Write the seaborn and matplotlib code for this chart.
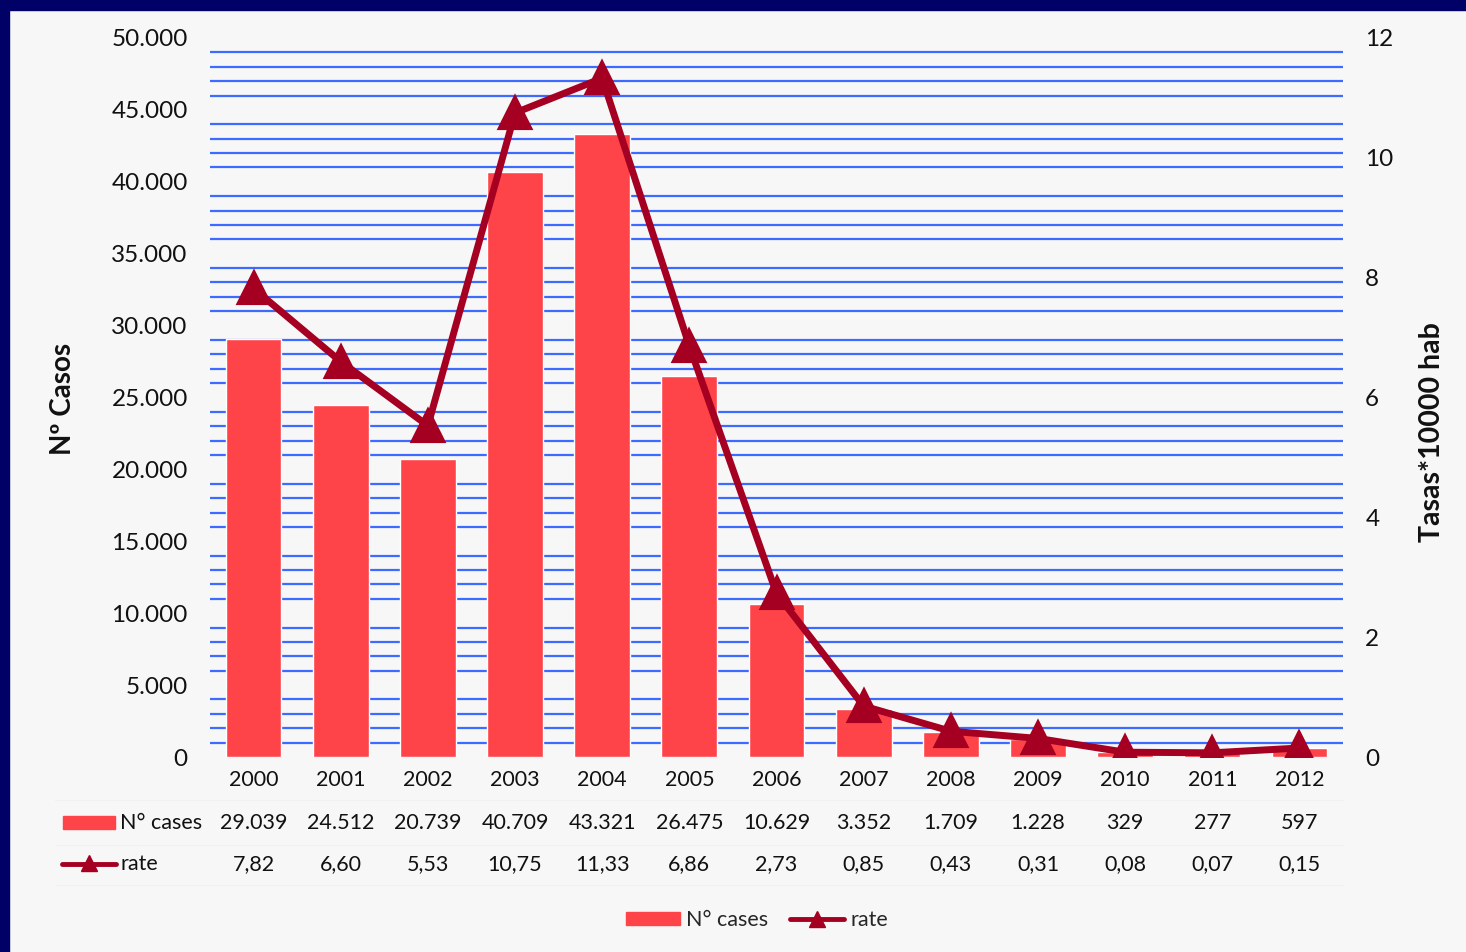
import matplotlib
matplotlib.use("Agg")
import matplotlib.pyplot as plt
from matplotlib.patches import Rectangle
from matplotlib.lines import Line2D
from matplotlib.ticker import FixedLocator, FuncFormatter
import seaborn as sns
import pandas as pd

# Annual cases and rate per 10,000 inhabitants
years = ["2000", "2001", "2002", "2003", "2004", "2005", "2006",
         "2007", "2008", "2009", "2010", "2011", "2012"]
cases = [29039, 24512, 20739, 40709, 43321, 26475, 10629,
         3352, 1709, 1228, 329, 277, 597]
rate = [7.82, 6.60, 5.53, 10.75, 11.33, 6.86, 2.73,
        0.85, 0.43, 0.31, 0.08, 0.07, 0.15]

df = pd.DataFrame({"year": years, "cases": cases, "rate": rate})

sns.set_theme(style="white")
plt.rcParams["font.family"] = ["Lato", "DejaVu Sans"]

BG = "#f7f7f7"
BAR = "#ff4449"
LINE = "#a50021"
GRID = "#3d6bff"
NAVY = "#000066"
TXT = "#111111"

W, H = 1466, 952
fig = plt.figure(figsize=(W / 100, H / 100), dpi=100, facecolor=BG)

# frame band along the top and left edges
fig.patches.append(Rectangle((0, 1 - 10 / H), 1, 10 / H, transform=fig.transFigure,
                             color=NAVY, zorder=0))
fig.patches.append(Rectangle((0, 0), 9 / W, 1, transform=fig.transFigure,
                             color=NAVY, zorder=0))

x0, x1 = 210 / W, 1343 / W
y0, y1 = 1 - 757 / H, 1 - 38 / H
ax = fig.add_axes([x0, y0, x1 - x0, y1 - y0])
ax.set_facecolor(BG)

sns.barplot(data=df, x="year", y="cases", color=BAR, width=0.64,
            saturation=1, ax=ax, zorder=3)
ax.set_xlim(-0.5, len(years) - 0.5)
ax.set_ylim(0, 50000)
ax.set_yticks(range(0, 50001, 5000))
ax.yaxis.set_major_formatter(FuncFormatter(lambda v, p: f"{int(v):,}".replace(",", ".")))
minor = [v for v in range(1000, 50000, 1000) if v % 5000 != 0]
ax.yaxis.set_minor_locator(FixedLocator(minor))
ax.grid(False)
ax.grid(True, which="minor", axis="y", color=GRID, lw=1.6, zorder=1)
ax.set_axisbelow(True)
ax.tick_params(axis="y", which="both", length=0, labelsize=17.5, pad=16, colors=TXT)
ax.tick_params(axis="x", length=0, labelsize=15.5, pad=9, colors=TXT)
ax.set_xlabel("")
ax.set_ylabel("Nº Casos", fontsize=20, fontweight="bold", color=TXT)
ax.yaxis.set_label_coords((76 - 210) / 1133, (757 - 399) / 719)
for s in ax.spines.values():
    s.set_visible(False)

ax2 = ax.twinx()
sns.lineplot(data=df, x="year", y="rate", color=LINE, lw=5, marker="^",
             markersize=21, markeredgecolor=LINE, markeredgewidth=3,
             ax=ax2, zorder=5, solid_joinstyle="round")
ax2.set_ylim(0, 12)
ax2.set_xlim(-0.5, len(years) - 0.5)
ax2.set_yticks(range(0, 13, 2))
ax2.tick_params(axis="y", length=0, labelsize=17.5, pad=16, colors=TXT)
ax2.set_ylabel("Tasas*10000 hab", fontsize=20.5, fontweight="bold", color=TXT)
ax2.yaxis.set_label_coords((1419 - 210) / 1133, (757 - 432) / 719)
ax2.grid(False)
for s in ax2.spines.values():
    s.set_visible(False)

# data table below the chart
row_cases_y = 1 - 823 / H
row_rate_y = 1 - 864 / H
for i, (c, r) in enumerate(zip(cases, rate)):
    xf = x0 + (i + 0.5) / len(years) * (x1 - x0)
    fig.text(xf, row_cases_y, f"{c:,}".replace(",", "."), fontsize=15.5,
             ha="center", va="center", color=TXT)
    fig.text(xf, row_rate_y, f"{r:.2f}".replace(".", ","), fontsize=15.5,
             ha="center", va="center", color=TXT)

# row headers with their key symbols
fig.patches.append(Rectangle((63 / W, row_cases_y - 6 / H), 52 / W, 13 / H,
                             transform=fig.transFigure, color=BAR))
fig.text(120 / W, row_cases_y, "N° cases", fontsize=15.5, ha="left", va="center",
         color=TXT)
fig.lines.append(Line2D([62 / W, 116 / W], [row_rate_y, row_rate_y],
                        transform=fig.transFigure, color=LINE, lw=3.5,
                        solid_capstyle="round"))
fig.lines.append(Line2D([89 / W], [row_rate_y + 1 / H], transform=fig.transFigure,
                        color=LINE, marker="^", markersize=11, lw=0))
fig.text(120 / W, row_rate_y, "rate", fontsize=15.5, ha="left", va="center",
         color=TXT)

# faint table cell borders
for yb in [1 - 800 / H, 1 - 845 / H, 1 - 885 / H]:
    fig.lines.append(Line2D([55 / W, x1], [yb, yb], transform=fig.transFigure,
                            color="#f1f1f1", lw=0.8))

handles = [Rectangle((0, 0), 1, 1, color=BAR),
           Line2D([0], [0], color=LINE, lw=3.5, marker="^", markersize=11)]
fig.legend(handles, ["N° cases", "rate"], loc="center",
           bbox_to_anchor=(757 / W, 1 - 920 / H), ncol=2, frameon=False,
           fontsize=15.5, handlelength=2.5, handleheight=0.6, columnspacing=1.0,
           handletextpad=0.3)

fig.savefig("out.png", dpi=100, facecolor=BG)
